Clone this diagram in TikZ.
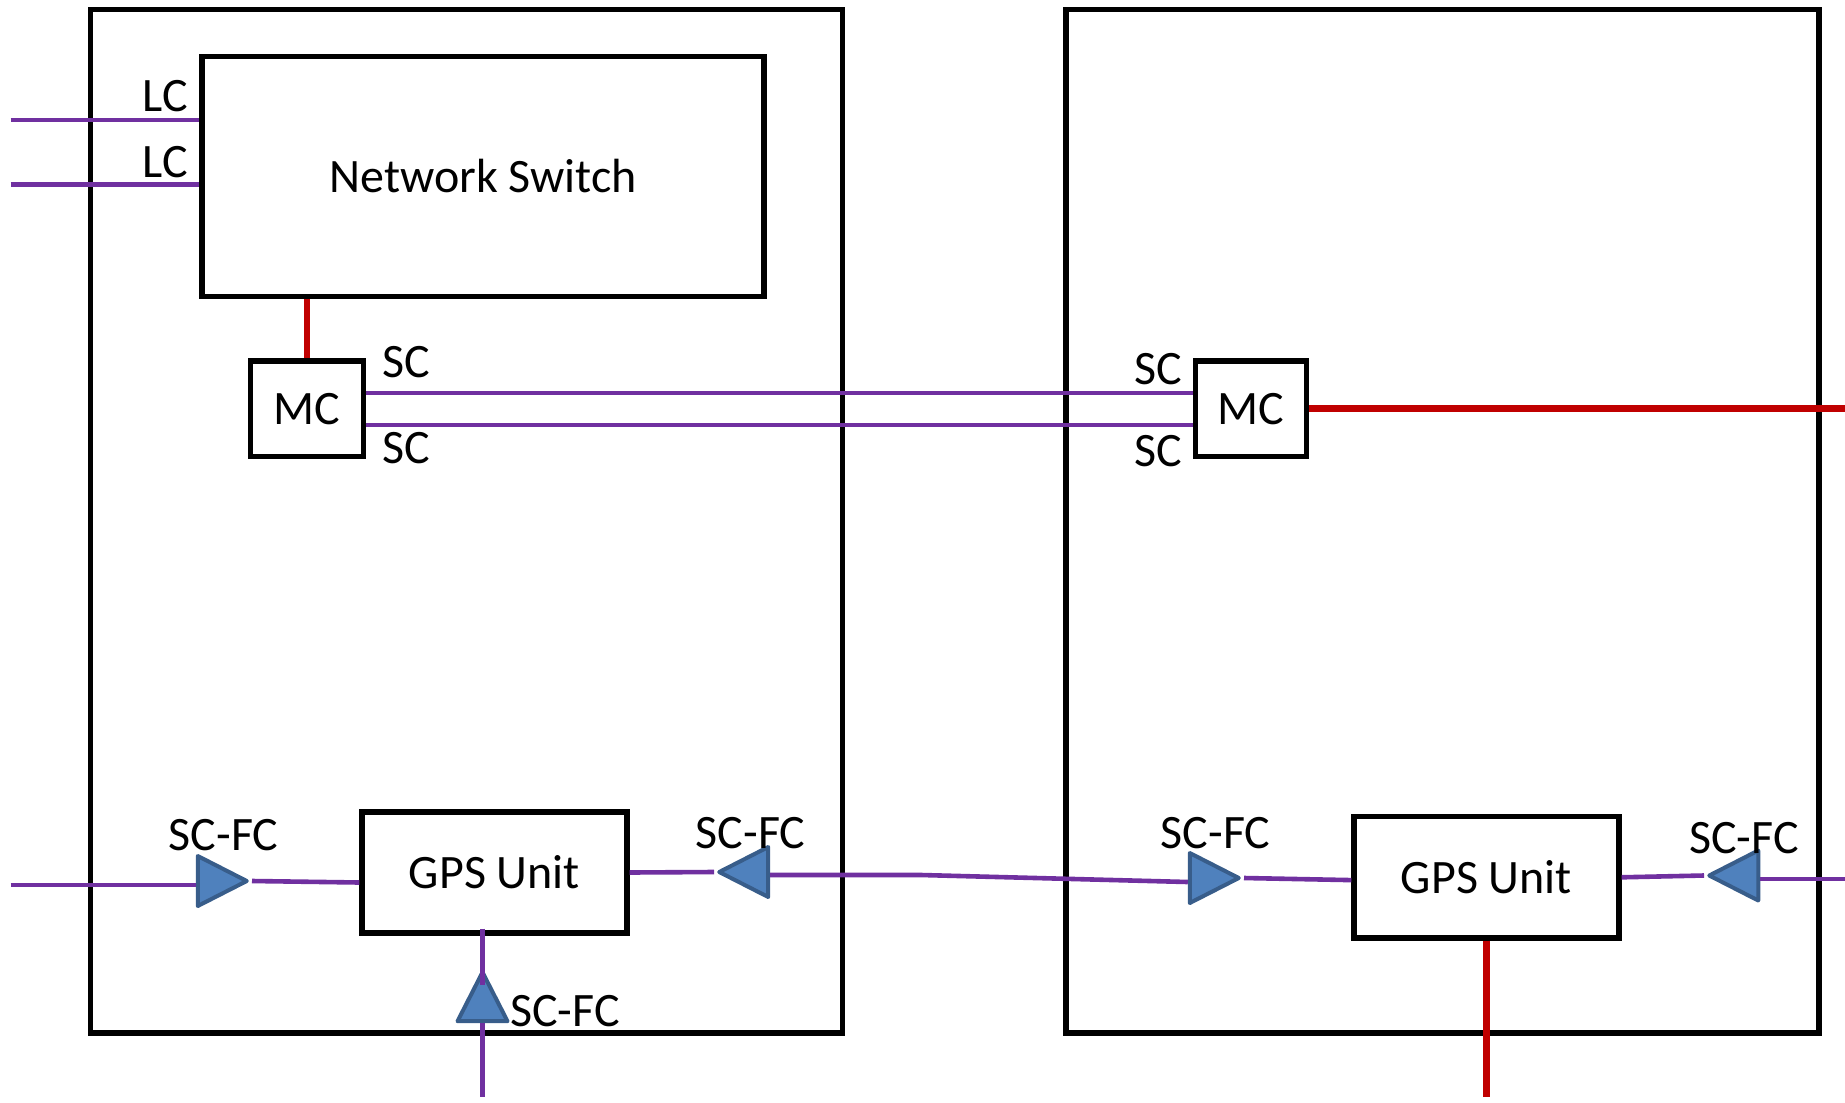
\documentclass[tikz,border=0pt]{standalone}
\usepackage{fontspec}
\setmainfont{Carlito}
\usetikzlibrary{shapes.geometric,calc}
\definecolor{lnpurple}{HTML}{7030A0}
\definecolor{lnred}{HTML}{C00000}
\definecolor{trifill}{HTML}{4F81BD}
\definecolor{tridraw}{HTML}{385D8A}
\begin{document}
\begin{tikzpicture}[x=0.5pt,y=-0.5pt,
  box/.style={draw=black,line width=2.6pt,fill=white,inner sep=0pt,font=\fontsize{24}{28}\selectfont},
  lbl/.style={inner sep=0pt,font=\fontsize{24}{28}\selectfont},
  fiber/.style={draw=lnpurple,line width=2.3pt},
  copper/.style={draw=lnred,line width=3.4pt},
  tri/.style={isosceles triangle,isosceles triangle stretches,minimum width=25pt,minimum height=24.5pt,inner sep=0pt,fill=trifill,draw=tridraw,line width=2pt,line join=round}]
\useasboundingbox (0,0) rectangle (1845,1102);
% outer boxes
\node[box,minimum width=376pt,minimum height=511.8pt] (lbox) at (466.5,521.2) {};
\node[box,minimum width=376.5pt,minimum height=511.8pt] (rbox) at (1442.5,521.2) {};
% inner boxes
\node[box,minimum width=281pt,minimum height=120pt] (sw) at (483,176.5) {Network Switch};
\node[box,minimum width=56.5pt,minimum height=47.75pt] (mc1) at (307,408.7) {MC};
\node[box,minimum width=55.75pt,minimum height=47.75pt] (mc2) at (1251,408.7) {MC};
\node[box,minimum width=132.5pt,minimum height=60.5pt] (gps1) at (494.5,872.5) {GPS Unit};
\node[box,minimum width=132.5pt,minimum height=60.7pt] (gps2) at (1486.5,877.3) {GPS Unit};
% free ends
\coordinate (lc1) at (10.6,120);
\coordinate (lc2) at (10.6,184.7);
\coordinate (sc1) at (0,393);
\coordinate (sc2) at (0,425);
\coordinate (redend) at (1845,408.7);
\coordinate (inA) at (10.6,885);
\coordinate (bend) at (921,875);
\coordinate (outD) at (1845,879);
\coordinate (inE) at (482.5,1097);
\coordinate (redB) at (1487,1097);
% copper links
\draw[copper] (mc1.north) -- (mc1.north |- sw.south);
\draw[copper] (mc2.east) -- (redend);
\draw[copper] (gps2.south) -- (gps2.south |- redB);
% fiber links top
\draw[fiber] (lc1) -- (lc1 -| sw.west);
\draw[fiber] (lc2) -- (lc2 -| sw.west);
\draw[fiber] (sc1 -| mc1.east) -- (sc1 -| mc2.west);
\draw[fiber] (sc2 -| mc1.east) -- (sc2 -| mc2.west);
% connectors (triangles)
\node[tri,shape border rotate=0,anchor=apex] (ta) at (252,881) {};
\node[tri,shape border rotate=180,anchor=apex] (tb) at (714,872) {};
\node[tri,shape border rotate=0,anchor=apex] (tc) at (1244,878) {};
\node[tri,shape border rotate=180,anchor=apex] (td) at (1704,875.5) {};
\node[tri,shape border rotate=90,anchor=apex] (te) at (482.5,967) {};
% fiber links bottom
\draw[fiber] (inA) -- (inA -| ta.west);
\draw[fiber] (ta.apex) -- ([yshift=-5pt]gps1.west);
\draw[fiber] (gps1.east) -- (tb.apex);
\draw[fiber] ([yshift=-1.5pt]tb.east) -- (bend) -- ([yshift=-2pt]tc.west);
\draw[fiber] (tc.apex) -- ([yshift=-1.4pt]gps2.west);
\draw[fiber] (gps2.east) -- (td.apex);
\draw[fiber] (outD -| td.east) -- (outD);
\draw[fiber] ([yshift=3.5pt]te.apex |- gps1.south) -- ([yshift=-9pt]te.apex);
\draw[fiber] (te.south) -- (inE);
% labels
\node[lbl] (llc1) at (165,96.5) {LC};
\node[lbl] (llc2) at (165,162) {LC};
\node[lbl] (lsc1) at (406,362) {SC};
\node[lbl] (lsc2) at (406,448) {SC};
\node[lbl] (lsc3) at (1158,369.5) {SC};
\node[lbl] (lsc4) at (1158,450.7) {SC};
\node[lbl] (lfa) at (223.6,835.5) {SC-FC};
\node[lbl] (lfb) at (750.7,833) {SC-FC};
\node[lbl] (lfc) at (1215.5,833) {SC-FC};
\node[lbl] (lfd) at (1744,838) {SC-FC};
\node[lbl] (lfe) at (565,1011) {SC-FC};
\end{tikzpicture}
\end{document}
